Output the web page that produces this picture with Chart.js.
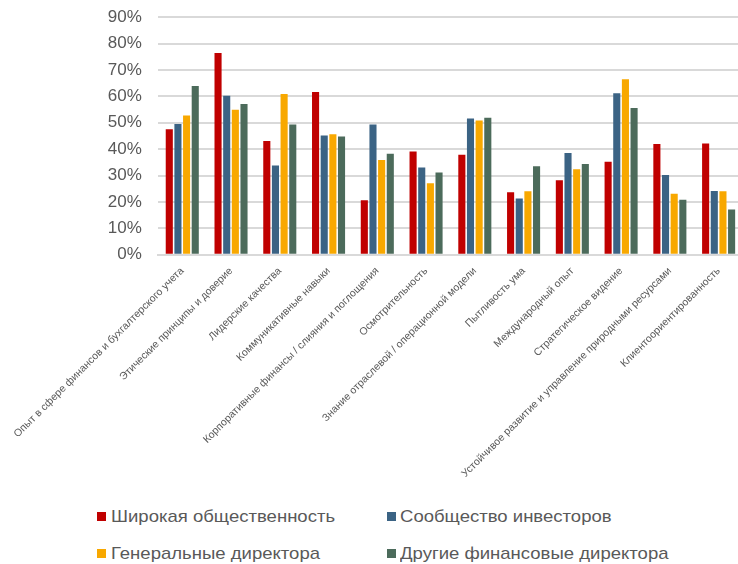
<!DOCTYPE html>
<html>
<head>
<meta charset="utf-8">
<script src="https://cdn.jsdelivr.net/npm/chart.js@4.4.1/dist/chart.umd.min.js"></script>
<style>
  html, body { margin: 0; padding: 0; background: #fff; overflow: hidden; }
  #wrap { position: relative; width: 738px; height: 564px; overflow: hidden; }
  #box { position: absolute; left: 11px; top: -9px; width: 738px; height: 491px; }
  .leg-box { position: absolute; width: 9px; height: 9px; }
  .leg-txt { position: absolute; font-family: "Liberation Sans", Arial, sans-serif; font-size: 17px; color: #595959;
             white-space: nowrap; line-height: 20px; transform: scaleX(1.09); transform-origin: 0 50%; }
</style>
</head>
<body>
<div id="wrap">
  <div id="box"><canvas id="chart"></canvas></div>
  <div id="legend"></div>
</div>
<script>
'use strict';

var categories = [
  'Опыт в сфере финансов и бухгалтерского учета',
  'Этические принципы и доверие',
  'Лидерские качества',
  'Коммуникативные навыки',
  'Корпоративные финансы / слияния и поглощения',
  'Осмотрительность',
  'Знание отраслевой / операционной модели',
  'Пытливость ума',
  'Международный опыт',
  'Стратегическое видение',
  'Устойчивое развитие и управление природными ресурсами',
  'Клиентоориентированность'
];

var seriesNames = [
  'Широкая общественность',
  'Сообщество инвесторов',
  'Генеральные директора',
  'Другие финансовые директора'
];

var generalPublic = [47.6, 76.4, 43.1, 61.7, 20.7, 39.1, 37.9, 23.7, 28.2, 35.2, 42.0, 42.2];
var investors     = [49.5, 60.2, 33.8, 45.2, 49.4, 33.1, 51.6, 21.3, 38.6, 61.2, 30.2, 24.2];
var ceos          = [52.8, 54.9, 60.9, 45.7, 35.9, 27.1, 50.9, 24.1, 32.4, 66.5, 23.1, 24.1];
var otherCfos     = [63.9, 57.1, 49.4, 44.8, 38.3, 31.2, 51.9, 33.5, 34.4, 55.6, 20.8, 17.2];

var yTicks = [0, 10, 20, 30, 40, 50, 60, 70, 80, 90];

var colors = ['#C00000', '#3B6384', '#F8A800', '#4C6B5B'];
var values = [generalPublic, investors, ceos, otherCfos];

var datasets = seriesNames.map(function(name, i) {
  return {
    label: name,
    data: values[i],
    backgroundColor: colors[i],
    borderWidth: 0,
    categoryPercentage: 0.71,
    barPercentage: 0.82
  };
});

var ctx = document.getElementById('chart').getContext('2d');
var myChart = new Chart(ctx, {
  type: 'bar',
  data: { labels: categories, datasets: datasets },
  options: {
    responsive: true,
    maintainAspectRatio: false,
    animation: false,
    layout: { padding: { top: 0, right: 6, left: 0, bottom: 0 } },
    plugins: {
      legend: { display: false },
      tooltip: { enabled: false }
    },
    scales: {
      x: {
        grid: { display: false },
        border: { color: '#d9d9d9', width: 2 },
        ticks: {
          minRotation: 45,
          maxRotation: 45,
          autoSkip: false,
          padding: 2,
          color: '#595959',
          font: { family: 'Liberation Sans', size: 10.5 }
        }
      },
      y: {
        min: 0,
        max: 90,
        afterBuildTicks: function(axis) {
          axis.ticks = yTicks.map(function(v) { return { value: v }; });
        },
        grid: { color: '#d9d9d9', lineWidth: 2, drawTicks: false },
        border: { display: false },
        ticks: {
          padding: 16,
          color: '#595959',
          font: { family: 'Liberation Sans', size: 17 },
          callback: function(v) { return v + '%'; }
        }
      }
    }
  }
});

// legend in two fixed columns like the original
var legendBox = [[97, 512], [387, 512], [97, 549], [387, 549]];
var legendTxt = [[111, 507], [400, 507], [111, 544], [400, 544]];
var legendEl = document.getElementById('legend');
seriesNames.forEach(function(name, i) {
  var b = document.createElement('div');
  b.className = 'leg-box';
  b.style.left = legendBox[i][0] + 'px';
  b.style.top = legendBox[i][1] + 'px';
  b.style.background = colors[i];
  legendEl.appendChild(b);

  var t = document.createElement('div');
  t.className = 'leg-txt';
  t.style.left = legendTxt[i][0] + 'px';
  t.style.top = legendTxt[i][1] + 'px';
  t.textContent = name;
  legendEl.appendChild(t);
});
</script>
</body>
</html>
